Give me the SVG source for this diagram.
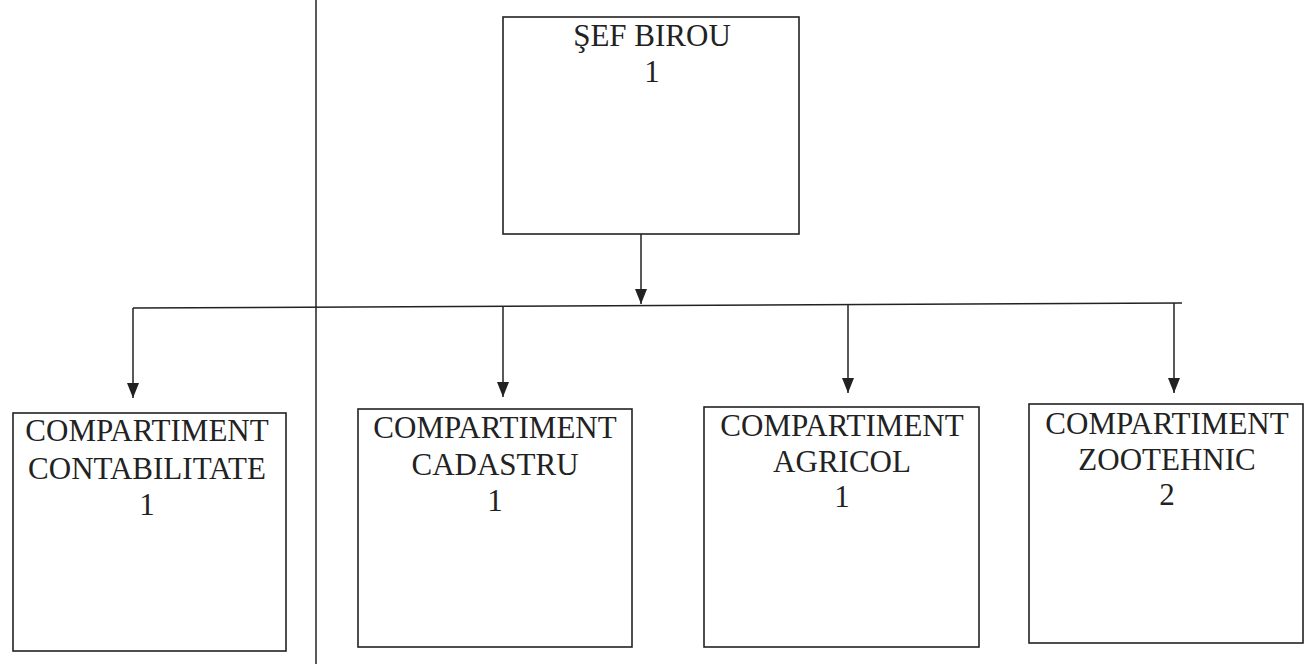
<svg xmlns="http://www.w3.org/2000/svg" width="1310" height="664" viewBox="0 0 1310 664">
<defs>
<style>
.box{fill:#fff;stroke:#222;stroke-width:1.6}
.ln{fill:none;stroke:#222;stroke-width:1.5}
.t{font-family:'Liberation Serif','DejaVu Serif',serif;font-size:31px;fill:#222;text-anchor:middle}
</style>
<marker id="ah" viewBox="0 0 15 12" refX="15" refY="6" markerWidth="15" markerHeight="12" orient="auto" markerUnits="userSpaceOnUse">
<path d="M0,0 L15,6 L0,12 z" fill="#222"/>
</marker>
</defs>
<rect width="1310" height="664" fill="#fff"/>
<g id="connectors">
<line class="ln" x1="316" y1="0" x2="316" y2="664"/>
<line class="ln" x1="133" y1="308" x2="1182" y2="303"/>
<line class="ln" x1="641" y1="234" x2="641" y2="304" marker-end="url(#ah)"/>
<line class="ln" x1="133" y1="308" x2="133" y2="398" marker-end="url(#ah)"/>
<line class="ln" x1="503" y1="306" x2="503" y2="397" marker-end="url(#ah)"/>
<line class="ln" x1="848" y1="304" x2="848" y2="393" marker-end="url(#ah)"/>
<line class="ln" x1="1174" y1="303" x2="1174" y2="393" marker-end="url(#ah)"/>
</g>
<g id="sef-birou">
<rect class="box" x="503" y="17" width="296" height="217"/>
<text class="t" x="652" y="46">ŞEF BIROU</text>
<text class="t" x="652" y="82">1</text>
</g>
<g id="contabilitate">
<rect class="box" x="13" y="413" width="273" height="238"/>
<text class="t" x="147" y="441">COMPARTIMENT</text>
<text class="t" x="147" y="479">CONTABILITATE</text>
<text class="t" x="147" y="515">1</text>
</g>
<g id="cadastru">
<rect class="box" x="358" y="409" width="274" height="238"/>
<text class="t" x="495" y="438">COMPARTIMENT</text>
<text class="t" x="495" y="475">CADASTRU</text>
<text class="t" x="495" y="511">1</text>
</g>
<g id="agricol">
<rect class="box" x="704" y="407" width="275" height="240"/>
<text class="t" x="842" y="436">COMPARTIMENT</text>
<text class="t" x="842" y="472">AGRICOL</text>
<text class="t" x="842" y="507">1</text>
</g>
<g id="zootehnic">
<rect class="box" x="1029" y="404" width="274" height="239"/>
<text class="t" x="1167" y="434">COMPARTIMENT</text>
<text class="t" x="1167" y="470">ZOOTEHNIC</text>
<text class="t" x="1167" y="505">2</text>
</g>
</svg>
